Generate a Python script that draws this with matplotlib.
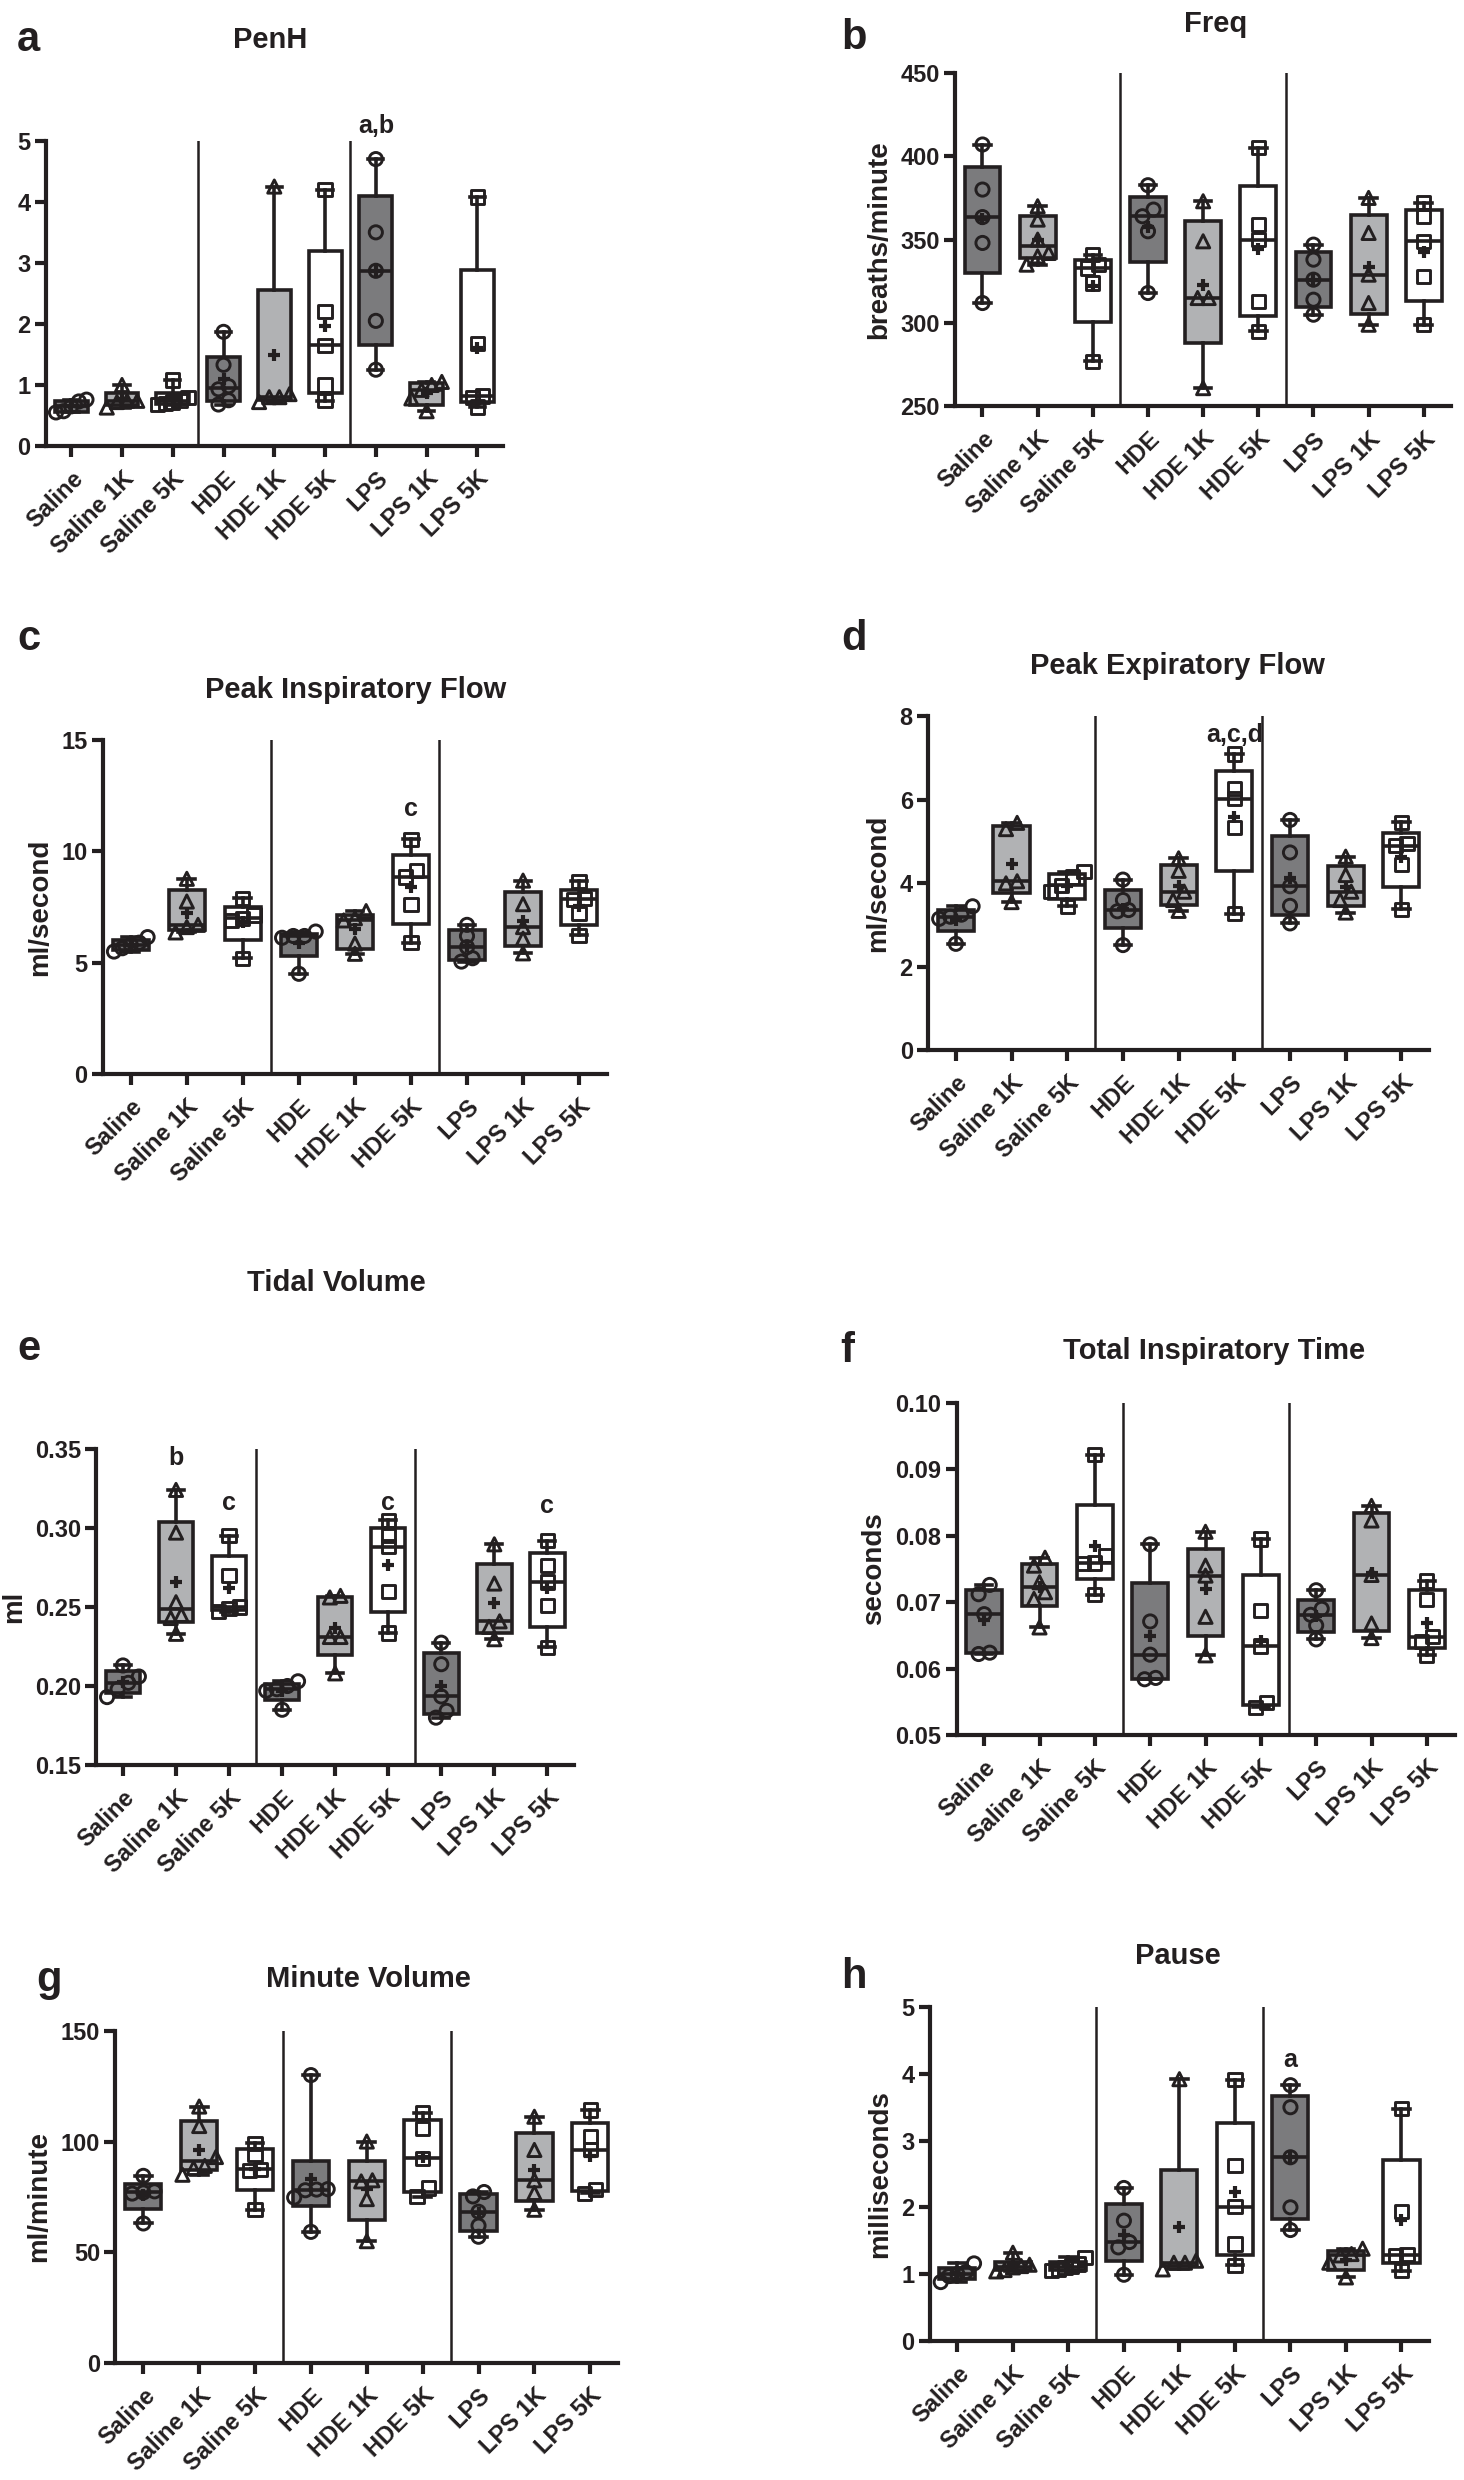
import numpy as np
import matplotlib.pyplot as plt

# group names (same for every panel)
groups = ['Saline', 'Saline 1K', 'Saline 5K', 'HDE', 'HDE 1K', 'HDE 5K',
          'LPS', 'LPS 1K', 'LPS 5K']

# individual animals per group
penh = [[0.55, 0.57, 0.65, 0.73, 0.76],
        [0.63, 0.72, 0.74, 0.74, 1.0],
        [0.68, 0.7, 0.72, 0.75, 0.8, 1.08],
        [0.68, 0.75, 0.93, 0.98, 1.33, 1.87],
        [0.72, 0.8, 0.8, 0.85, 4.25],
        [0.74, 1.0, 1.65, 2.2, 4.2],
        [1.25, 2.05, 2.87, 3.5, 4.7],
        [0.57, 0.78, 0.92, 1.0, 1.05],
        [0.64, 0.8, 0.82, 1.68, 4.08]]

freq = [[312, 348, 363.5, 380, 407],
        [335, 340, 342, 350, 362, 370],
        [277, 324, 333, 335, 341],
        [318, 355, 364, 368, 382.6],
        [261, 315, 315, 349, 373],
        [295, 313, 350, 359, 405],
        [305, 314, 326, 338, 347],
        [299, 312, 329, 354, 375],
        [299, 328, 349, 364, 372]]

pif = [[5.5, 5.65, 5.8, 5.9, 6.15],
       [6.36, 6.6, 6.7, 7.75, 8.77],
       [5.2, 6.88, 7.0, 7.14, 7.9],
       [4.5, 6.12, 6.2, 6.2, 6.4],
       [5.4, 5.86, 6.9, 7.0, 7.32],
       [5.9, 7.62, 8.85, 9.16, 10.54],
       [5.05, 5.2, 5.7, 6.2, 6.7],
       [5.42, 6.08, 6.6, 7.63, 8.69],
       [6.23, 7.2, 7.85, 7.9, 8.65]]

pef = [[2.55, 3.15, 3.2, 3.25, 3.45],
       [3.55, 4.0, 4.05, 5.3, 5.45],
       [3.45, 3.8, 3.95, 4.15, 4.28],
       [2.52, 3.33, 3.36, 3.6, 4.09],
       [3.34, 3.6, 3.8, 4.3, 4.6],
       [3.27, 5.33, 6.03, 6.28, 7.1],
       [3.04, 3.46, 3.93, 4.74, 5.52],
       [3.3, 3.6, 3.8, 4.2, 4.64],
       [3.38, 4.45, 4.9, 4.95, 5.46]]

tidal = [[0.193, 0.198, 0.202, 0.206, 0.213],
         [0.233, 0.243, 0.245, 0.253, 0.297, 0.324],
         [0.247, 0.249, 0.25, 0.27, 0.295],
         [0.185, 0.197, 0.198, 0.2, 0.203],
         [0.208, 0.231, 0.231, 0.256, 0.257],
         [0.2335, 0.26, 0.288, 0.295, 0.3047],
         [0.18, 0.1843, 0.1934, 0.2138, 0.2274],
         [0.2296, 0.2374, 0.2409, 0.2648, 0.2896],
         [0.2244, 0.2508, 0.2658, 0.276, 0.2919]]

insp_time = [[0.0622, 0.0624, 0.0682, 0.0712, 0.0726],
             [0.0662, 0.0705, 0.0715, 0.0730, 0.0755, 0.0767],
             [0.0711, 0.0758, 0.0759, 0.0770, 0.0922],
             [0.0584, 0.0586, 0.0621, 0.0671, 0.0787],
             [0.0620, 0.0678, 0.0740, 0.0755, 0.0806],
             [0.0542, 0.0549, 0.0634, 0.0687, 0.0795],
             [0.0644, 0.0665, 0.0681, 0.0690, 0.0718],
             [0.0646, 0.0668, 0.0741, 0.0823, 0.0845],
             [0.0620, 0.0641, 0.0648, 0.0704, 0.0732]]

minute_vol = [[63, 76.5, 77, 77.5, 84.5],
              [85, 88, 89, 93, 107, 115.8],
              [69.2, 87, 87.5, 94, 99.2],
              [59.2, 74.7, 78, 78.3, 78.5, 130],
              [55, 74, 82, 82.5, 100],
              [75, 79, 92.5, 106, 113],
              [57, 62, 68.3, 75.2, 77.2],
              [69.2, 76.8, 82.5, 96.2, 111.2],
              [76.7, 78.3, 96.3, 102.4, 114.2]]

pause = [[0.88, 0.97, 1.0, 1.03, 1.16],
         [1.04, 1.06, 1.1, 1.12, 1.14, 1.32],
         [1.05, 1.07, 1.1, 1.12, 1.15, 1.25],
         [0.99, 1.4, 1.48, 1.8, 2.29],
         [1.07, 1.17, 1.17, 1.2, 3.92],
         [1.13, 1.45, 2.01, 2.63, 3.91],
         [1.66, 2.0, 2.75, 3.5, 3.83],
         [0.95, 1.17, 1.28, 1.3, 1.38],
         [1.05, 1.28, 1.29, 1.94, 3.48]]

# significance letters: (group index, y value, text)
penh_notes = [(6, 5.25, 'a,b')]
pif_notes = [(5, 11.9, 'c')]
pef_notes = [(5, 7.55, 'a,c,d')]
tidal_notes = [(1, 0.344, 'b'), (2, 0.316, 'c'), (5, 0.316, 'c'), (8, 0.314, 'c')]
pause_notes = [(6, 4.2, 'a')]

DARK = '#231f20'
FACES = ['#7b7b7d', '#b1b2b4', 'white']
MARKERS = ['o', '^', 's']
ARIAL = ['Liberation Sans', 'DejaVu Sans']

W, H = 926.0, 1568.0


def rect(l, r, t, b):
    return [l / W, 1 - b / H, (r - l) / W, (b - t) / H]


def spread(vals, tol):
    # spread points with close values sideways, like the original scatter
    vals = np.asarray(vals)
    order = np.argsort(vals)
    clusters = []
    for i in order:
        if clusters and vals[i] - vals[clusters[-1][-1]] < tol:
            clusters[-1].append(i)
        else:
            clusters.append([i])
    offs = np.zeros(len(vals))
    for c in clusters:
        k = len(c)
        step = 0.2 if k < 4 else 0.6 / (k - 1)
        for j, i in enumerate(c):
            offs[i] = (j - (k - 1) / 2) * step
    return offs


def draw_panel(ax, data, ylim, step, fmt, ylabel, notes):
    stats = []
    for i, vals in enumerate(data):
        v = np.array(vals, dtype=float)
        q1, med, q3 = np.percentile(v, [25, 50, 75], method='weibull')
        stats.append(dict(whislo=v.min(), q1=q1, med=med, q3=q3,
                          whishi=v.max(), fliers=[], label=groups[i]))
    bp = ax.bxp(stats, positions=range(9), widths=0.65, capwidths=0.3,
                patch_artist=True, showfliers=False,
                boxprops=dict(linewidth=2.6, edgecolor=DARK),
                whiskerprops=dict(linewidth=2.6, color=DARK),
                capprops=dict(linewidth=2.6, color=DARK),
                medianprops=dict(linewidth=2.6, color=DARK))
    for i, patch in enumerate(bp['boxes']):
        patch.set_facecolor(FACES[i % 3])

    tol = 0.03 * (ylim[1] - ylim[0])
    for i, vals in enumerate(data):
        v = np.array(vals, dtype=float)
        xs = i + spread(v, tol)
        ax.scatter(xs, v, marker=MARKERS[i % 3], s=90, facecolors='none',
                   edgecolors=DARK, linewidths=2.1, zorder=4, clip_on=False)
        ax.plot(i, v.mean(), marker='+', ms=9, mew=3, color=DARK, zorder=5)

    for sep in (2.5, 5.5):
        ax.axvline(sep, color=DARK, lw=1.8, zorder=1)

    ax.set_xlim(-0.5, 8.5)
    ax.set_ylim(*ylim)
    ticks = np.arange(ylim[0], ylim[1] + step / 2, step)
    ax.set_yticks(ticks)
    ax.set_yticklabels([fmt.format(t) for t in ticks], family=ARIAL,
                       fontweight='bold', fontsize=17, color=DARK)
    ax.set_xticks(range(9))
    ax.set_xticklabels(groups, rotation=45, ha='right', va='top',
                       rotation_mode='anchor', family=ARIAL,
                       fontweight='bold', fontsize=17, color=DARK)
    ax.spines[['top', 'right']].set_visible(False)
    for s in ('left', 'bottom'):
        ax.spines[s].set_linewidth(3)
        ax.spines[s].set_color(DARK)
    ax.tick_params(width=3, length=8, color=DARK, pad=3)
    ax.tick_params(axis='x', pad=7)
    if ylabel:
        ax.set_ylabel(ylabel, family=ARIAL, fontweight='bold', fontsize=20,
                      color=DARK, labelpad=6)
    for gi, y, txt in notes:
        ax.text(gi, y, txt, ha='center', va='center', family=ARIAL,
                fontweight='bold', fontsize=18, color=DARK, clip_on=False,
                zorder=6)


def main():
    fig = plt.figure(figsize=(14.64, 24.80), dpi=100)
    fig.patch.set_facecolor('white')

    panels = [
        # letter, title, data, ylim, step, fmt, ylabel, notes, axes box, letter pos, title pos
        ('a', 'PenH', penh, (0, 5), 1, '{:.0f}', None, penh_notes,
         rect(29, 318, 89, 282), (18, 25), (171, 25)),
        ('b', 'Freq', freq, (250, 450), 50, '{:.0f}', 'breaths/minute', [],
         rect(604, 918, 46, 257), (540, 24), (769, 15)),
        ('c', 'Peak Inspiratory Flow', pif, (0, 15), 5, '{:.0f}', 'ml/second',
         pif_notes, rect(65, 384, 468, 679), (18, 404), (225, 436)),
        ('d', 'Peak Expiratory Flow', pef, (0, 8), 2, '{:.0f}', 'ml/second',
         pef_notes, rect(587, 904, 453, 664), (540, 404), (745, 421)),
        ('e', 'Tidal Volume', tidal, (0.15, 0.35), 0.05, '{:.2f}', 'ml',
         tidal_notes, rect(61, 363, 916, 1116), (18, 853), (213, 811)),
        ('f', 'Total Inspiratory Time', insp_time, (0.05, 0.10), 0.01, '{:.2f}',
         'seconds', [], rect(605, 920, 887, 1097), (536, 854), (768, 854)),
        ('g', 'Minute Volume', minute_vol, (0, 150), 50, '{:.0f}', 'ml/minute',
         [], rect(73, 391, 1284, 1494), (31, 1252), (233, 1251)),
        ('h', 'Pause', pause, (0, 5), 1, '{:.0f}', 'milliseconds', pause_notes,
         rect(588, 904, 1269, 1480), (540, 1250), (745, 1237)),
    ]

    for letter, title, data, ylim, step, fmt, ylabel, notes, box, lpos, tpos in panels:
        ax = fig.add_axes(box)
        draw_panel(ax, data, ylim, step, fmt, ylabel, notes)
        fig.text(lpos[0] / W, 1 - lpos[1] / H, letter, ha='center', va='center',
                 family=ARIAL, fontweight='bold', fontsize=30, color=DARK)
        fig.text(tpos[0] / W, 1 - tpos[1] / H, title, ha='center', va='center',
                 family=ARIAL, fontweight='bold', fontsize=21, color=DARK)

    fig.savefig('out.png', dpi=100, facecolor='white')


if __name__ == '__main__':
    main()
